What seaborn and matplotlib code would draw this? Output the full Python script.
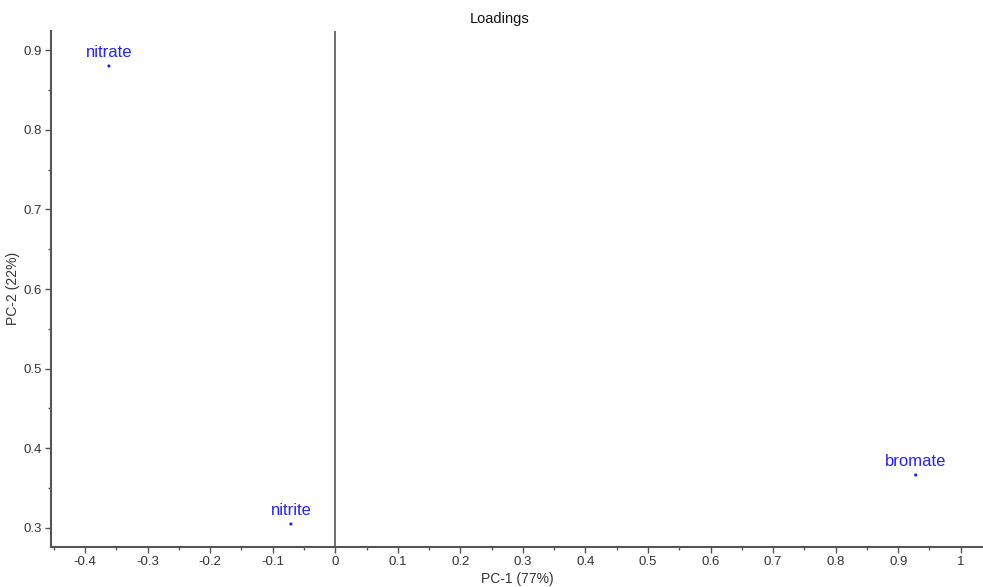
import matplotlib
matplotlib.use("Agg")
import matplotlib.pyplot as plt
from matplotlib.ticker import MultipleLocator, FuncFormatter
import seaborn as sns
import pandas as pd

variables = ["nitrate", "nitrite", "bromate"]
pc1 = [-0.362, -0.071, 0.928]
pc2 = [0.880, 0.305, 0.3665]

df = pd.DataFrame({"variable": variables, "PC-1": pc1, "PC-2": pc2})

sns.set_style("white")
plt.rcParams["font.family"] = ["Liberation Sans", "DejaVu Sans"]

fig = plt.figure(figsize=(9.83, 5.87), dpi=100)
ax = fig.add_axes([0.0516, 0.0687, 0.9484, 0.8783])

sns.scatterplot(data=df, x="PC-1", y="PC-2", ax=ax, color="#1a1aff", s=5,
                edgecolor="none", legend=False)

for _, r in df.iterrows():
    ax.annotate(r["variable"], (r["PC-1"], r["PC-2"]), xytext=(0, 4.5),
                textcoords="offset points", ha="center", va="bottom",
                color="#2222ff", fontsize=12)

ax.axvline(0, color="#555555", lw=1.2)

ax.set_xlim(-0.455, 1.0356)
ax.set_ylim(0.2765, 0.9238)
ax.xaxis.set_major_locator(MultipleLocator(0.1))
ax.xaxis.set_minor_locator(MultipleLocator(0.05))
ax.yaxis.set_major_locator(MultipleLocator(0.1))
ax.yaxis.set_minor_locator(MultipleLocator(0.05))

def fmt(v, pos):
    s = f"{v:.1f}"
    if s in ("0.0", "-0.0"):
        return "0"
    if s == "1.0":
        return "1"
    return s

ax.xaxis.set_major_formatter(FuncFormatter(fmt))
ax.yaxis.set_major_formatter(FuncFormatter(fmt))

ax.tick_params(axis="both", which="major", direction="out", length=4, width=1,
               color="#555555", labelsize=9.5, labelcolor="#333333", bottom=True, left=True,
               pad=2.5)
ax.tick_params(axis="both", which="minor", direction="out", length=2, width=1,
               color="#555555", bottom=True, left=True)

for side in ["top", "right"]:
    ax.spines[side].set_visible(False)
for side in ["left", "bottom"]:
    ax.spines[side].set_color("#555555")
    ax.spines[side].set_linewidth(1.5)

ax.set_xlabel("PC-1 (77%)", fontsize=10, color="#333333")
ax.set_ylabel("PC-2 (22%)", fontsize=10, color="#333333")
ax.xaxis.set_label_coords(0.50, -0.0485)
ax.yaxis.set_label_coords(-0.0325, 0.5)

fig.text(500 / 983, 1 - 19 / 587, "Loadings", ha="center", va="center",
         fontsize=10.5, color="#111111")

fig.savefig("out.png", dpi=100)
